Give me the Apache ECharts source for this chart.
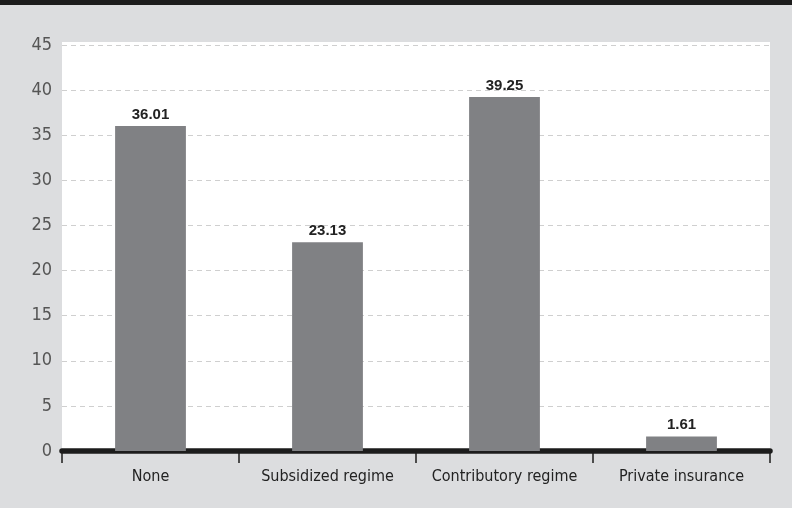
<!DOCTYPE html>
<html>
<head>
<meta charset="utf-8">
<script src="https://cdn.jsdelivr.net/npm/echarts@6/dist/echarts.min.js"></script>
<style>
  html, body { margin: 0; padding: 0; background: #dcdddf; }
  #chart { width: 792px; height: 508px; }
</style>
</head>
<body>
<div id="chart"></div>
<script>
// Share of respondents by health insurance type (%)
const categories = ['None', 'Subsidized regime', 'Contributory regime', 'Private insurance'];
const shares = [36.01, 23.13, 39.25, 1.61];
const yTicks = { min: 0, max: 45, interval: 5 };

const NARROW = "'Liberation Sans Narrow', 'DejaVu Sans Condensed', 'Liberation Sans', sans-serif";
const BOLD = "'Liberation Sans', Arial, sans-serif";

const chart = echarts.init(document.getElementById('chart'), null, { renderer: 'canvas' });
chart.setOption({
  backgroundColor: '#dcdddf',
  animation: false,
  graphic: [
    { type: 'rect', left: 0, top: 0, shape: { width: 792, height: 5 }, style: { fill: '#1c1c1c' } },
    { type: 'rect', left: 62, top: 42, shape: { width: 708, height: 4 }, style: { fill: '#ffffff' }, z: -1 }
  ],
  grid: {
    left: 62, right: 22, top: 45, bottom: 57,
    show: true, backgroundColor: '#ffffff', borderWidth: 0
  },
  xAxis: {
    type: 'category',
    data: categories,
    axisLine: { lineStyle: { color: '#1c1c1c', width: 5.5 } },
    axisTick: { show: true, interval: 0, length: 12, lineStyle: { color: '#1c1c1c', width: 1.5 } },
    axisLabel: { interval: 0, color: '#222', fontFamily: NARROW, fontSize: 16, margin: 18 }
  },
  yAxis: {
    type: 'value',
    min: yTicks.min, max: yTicks.max, interval: yTicks.interval,
    axisLine: { show: false },
    axisTick: { show: false },
    axisLabel: { color: '#555', fontFamily: NARROW, fontSize: 18, margin: 10 },
    splitLine: { lineStyle: { color: '#cfcfcf', type: [5, 4], width: 1 } }
  },
  series: [{
    type: 'bar',
    data: shares,
    barWidth: '40%',
    itemStyle: { color: '#808184' },
    label: {
      show: true, position: 'top', distance: 4,
      color: '#222', fontFamily: BOLD, fontWeight: 'bold', fontSize: 15,
      formatter: p => p.value.toFixed(2)
    }
  }]
});
</script>
</body>
</html>
